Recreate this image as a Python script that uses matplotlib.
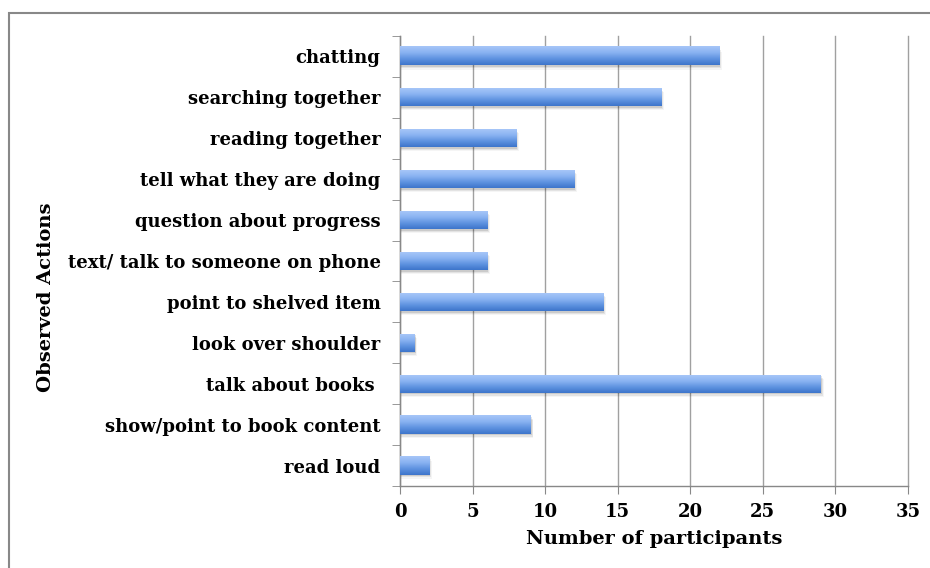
import numpy as np
import matplotlib
matplotlib.use("Agg")
import matplotlib.pyplot as plt
from matplotlib.colors import LinearSegmentedColormap
from matplotlib.patches import Rectangle

actions = [
    "chatting",
    "searching together",
    "reading together",
    "tell what they are doing",
    "question about progress",
    "text/ talk to someone on phone",
    "point to shelved item",
    "look over shoulder",
    "talk about books ",
    "show/point to book content",
    "read loud",
]
participants = [22, 18, 8, 12, 6, 6, 14, 1, 29, 9, 2]
x_ticks = [0, 5, 10, 15, 20, 25, 30, 35]

plt.rcParams["font.family"] = ["DejaVu Serif"]
plt.rcParams["font.weight"] = "bold"

fig = plt.figure(figsize=(9.3, 5.68), dpi=100)
ax = fig.add_axes([400 / 930, 1 - 486 / 568, 508 / 930, 450 / 568])

# light-to-dark vertical gradient like the old Excel bar style
grad = LinearSegmentedColormap.from_list("bar", ["#a6c6f8", "#8ab3f2", "#5f93e0", "#3d75cb"])
ramp = np.linspace(0, 1, 64).reshape(-1, 1)

ypos = np.arange(len(actions))
h = 0.44
for y, v in zip(ypos, participants):
    # soft drop shadow
    for k, a in enumerate([0.10, 0.07, 0.04]):
        off = 0.04 + 0.03 * k
        ax.add_patch(Rectangle((0, y - h / 2 + off), v + 0.08 + 0.05 * k, h,
                               facecolor="#000000", alpha=a, edgecolor="none", zorder=2))
    ax.imshow(ramp, cmap=grad, aspect="auto", interpolation="bilinear",
              extent=[0, v, y + h / 2, y - h / 2], zorder=3)

ax.set_xlim(0, 35)
ax.set_ylim(len(actions) - 0.5, -0.5)
ax.set_xticks(x_ticks)
ax.set_yticks(ypos)
ax.set_yticklabels(actions)
ax.set_yticks(np.arange(-0.5, len(actions), 1), minor=True)
ax.tick_params(axis="y", which="major", length=0, pad=14, labelsize=13)
ax.tick_params(axis="y", which="minor", length=6, color="#888888", direction="out")
ax.tick_params(axis="x", length=6, color="#888888", direction="out", labelsize=13, pad=6)

ax.grid(axis="x", color="#a0a0a0", linewidth=1.0, zorder=0)
for gl in ax.get_xgridlines():
    gl.set_clip_on(False)
ax.set_axisbelow(True)
for s in ["top", "right"]:
    ax.spines[s].set_visible(False)
for s in ["left", "bottom"]:
    ax.spines[s].set_color("#888888")
    ax.spines[s].set_linewidth(1.0)

ax.set_xlabel("Number of participants", fontsize=14, fontweight="bold", labelpad=7)
ax.set_ylabel("Observed Actions", fontsize=14, fontweight="bold")
ax.yaxis.set_label_coords(-345 / 508, 0.42)

# chart frame, only left and top edges fall inside the image
fig.patches.append(Rectangle((9 / 930, -0.2), 1.2, 1 - 13 / 568 + 0.2, transform=fig.transFigure,
                             facecolor="none", edgecolor="#888888", linewidth=1.5))

fig.savefig("out.png", dpi=100)
